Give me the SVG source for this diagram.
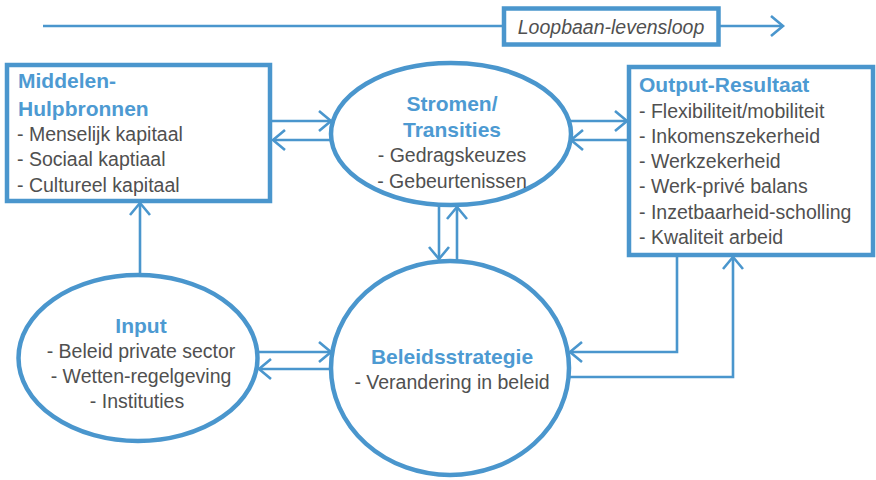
<svg xmlns="http://www.w3.org/2000/svg" width="876" height="480" viewBox="0 0 876 480">
<defs>
<style>
.node{fill:#fff;stroke:#4a96cd;stroke-width:4.5}
.conn{fill:none;stroke:#4a96cd;stroke-width:2.6;marker-end:url(#arr)}
.ttl{font-family:"Liberation Sans",Arial,sans-serif;font-weight:bold;font-size:21px;fill:#4d9ad2}
.txt{font-family:"Liberation Sans",Arial,sans-serif;font-size:19.5px;fill:#505050}
.mid{text-anchor:middle}
</style>
<marker id="arr" markerUnits="userSpaceOnUse" viewBox="-16 -14 20 28" markerWidth="20" markerHeight="28" refX="0" refY="0" orient="auto">
<path d="M-12,-10 L0,0 L-12,10" fill="none" stroke="#4a96cd" stroke-width="2.6"/>
</marker>
</defs>
<g id="connectors">
<path class="conn" d="M43,26 H783"/>
<path class="conn" d="M272,121 H331"/>
<path class="conn" d="M331,140 H273"/>
<path class="conn" d="M569,121 H627"/>
<path class="conn" d="M629,140 H571"/>
<path class="conn" d="M439,206 V259"/>
<path class="conn" d="M457,261 V207"/>
<path class="conn" d="M677,256 V352 H570"/>
<path class="conn" d="M569,377 H733 V257"/>
<path class="conn" d="M140,275 V203"/>
<path class="conn" d="M258,352 H331"/>
<path class="conn" d="M332,369 H259"/>
</g>
<g id="timeline">
<rect class="node" x="504" y="8.5" width="214.5" height="36"/>
<text x="611" y="34" class="txt mid" font-style="italic" font-size="19">Loopbaan-levensloop</text>
</g>
<g id="middelen">
<rect class="node" x="7" y="65" width="263" height="136"/>
<text x="18" y="88" class="ttl">Middelen-</text>
<text x="18" y="116" class="ttl">Hulpbronnen</text>
<text x="17" y="141" class="txt">- Menselijk kapitaal</text>
<text x="17" y="166" class="txt">- Sociaal kaptiaal</text>
<text x="17" y="191.5" class="txt">- Cultureel kapitaal</text>
</g>
<g id="stromen">
<ellipse class="node" cx="451" cy="134" rx="120" ry="71"/>
<text x="452" y="111" class="ttl mid">Stromen/</text>
<text x="452" y="137" class="ttl mid">Transities</text>
<text x="452" y="161.5" class="txt mid">- Gedragskeuzes</text>
<text x="452" y="187.5" class="txt mid">- Gebeurtenissen</text>
</g>
<g id="output">
<rect class="node" x="629" y="67" width="244" height="188"/>
<text x="639" y="91.5" class="ttl">Output-Resultaat</text>
<text x="639" y="118" class="txt">- Flexibiliteit/mobiliteit</text>
<text x="639" y="142.5" class="txt">- Inkomenszekerheid</text>
<text x="639" y="168" class="txt">- Werkzekerheid</text>
<text x="639" y="193" class="txt">- Werk-privé balans</text>
<text x="639" y="219" class="txt">- Inzetbaarheid-scholling</text>
<text x="639" y="244" class="txt">- Kwaliteit arbeid</text>
</g>
<g id="input">
<ellipse class="node" cx="138" cy="358" rx="119.5" ry="83"/>
<text x="141" y="332.5" class="ttl mid">Input</text>
<text x="141" y="357.5" class="txt mid">- Beleid private sector</text>
<text x="141" y="383" class="txt mid">- Wetten-regelgeving</text>
<text x="137" y="408" class="txt mid">- Instituties</text>
</g>
<g id="beleid">
<ellipse class="node" cx="450" cy="368" rx="119" ry="107"/>
<text x="452" y="364" class="ttl mid">Beleidsstrategie</text>
<text x="452" y="389" class="txt mid">- Verandering in beleid</text>
</g>
</svg>
